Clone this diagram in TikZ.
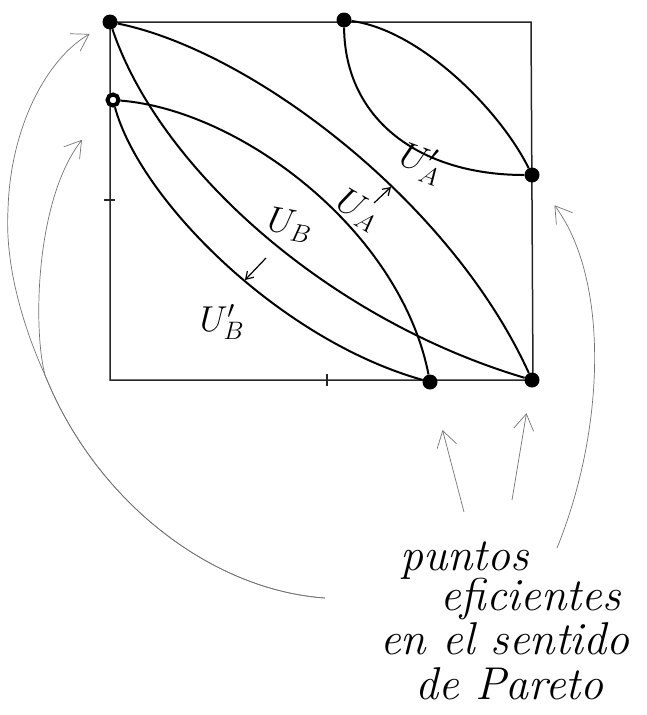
\RequirePackage{fix-cm}
\documentclass[tikz,border=0pt]{standalone}
\usepackage{tikz}
\usetikzlibrary{arrows.meta}

\begin{document}
\begin{tikzpicture}[x=1pt,y=-1pt,>={Straight Barb[length=16pt,width=20pt]},
  pto/.style={circle,fill=black,inner sep=0pt,minimum size=15pt},
  curva/.style={line width=2pt},
  caja/.style={line width=1.5pt,black!85},
  flecha/.style={->,black!55,line width=0.7pt},
  flechita/.style={-{Straight Barb[length=7pt,width=9pt]},line width=1.2pt},
  etiq/.style={font=\fontsize{36}{36}\selectfont,inner sep=0pt},
  letra/.style={font=\fontsize{46}{50}\selectfont\itshape,anchor=base west,inner sep=0pt}]
  \useasboundingbox (0,0) rectangle (646,715);
  % caja
  \draw[caja] (110,22) -- (531,22) -- (533,380) -- (110,380) -- cycle;
  \draw[caja] (104,200) -- (115,200);
  \draw[caja] (327,374) -- (327,386);
  % puntos eficientes
  \node[pto] (p1) at (110,22) {};
  \node[pto,fill=white,draw=black,line width=4pt,minimum size=11pt] (p2) at (113,100) {};
  \node[pto] (p3) at (344,20) {};
  \node[pto] (p4) at (532,175) {};
  \node[pto] (p5) at (430,382) {};
  \node[pto] (p6) at (532,380) {};
  % curvas de indiferencia
  \draw[curva] (p1) .. controls (250,50) and (450,200) .. (p6);
  \draw[curva] (p1) .. controls (160,170) and (330,320) .. (p6);
  \draw[curva] (p2) .. controls (240,110) and (400,230) .. (p5);
  \draw[curva] (p2) .. controls (140,200) and (280,340) .. (p5);
  \draw[curva] (p3) .. controls (420,30) and (500,110) .. (p4);
  \draw[curva] (p3) .. controls (345,120) and (420,175) .. (p4);
  % etiquetas
  \node[etiq,rotate=-30] (ua) at (358,210) {$U_A$};
  \node[etiq,rotate=-20] (uap) at (421,163) {$U_A'$};
  \node[etiq,rotate=-10] (ub) at (290,225) {$U_B$};
  \node[etiq] (ubp) at (222,322) {$U_B'$};
  \coordinate (fa0) at (374,203);
  \coordinate (fa1) at (391,187);
  \coordinate (fb0) at (266,258);
  \coordinate (fb1) at (245,280);
  \draw[flechita] (fa0) -- (fa1);
  \draw[flechita] (fb0) -- (fb1);
  % texto
  \node[letra] (t1) at (400,570) {puntos};
  \node[letra] (t2) at (440,610) {eficientes};
  \node[letra] (t3) at (380,654) {en el sentido};
  \node[letra] (t4) at (415,699) {de Pareto};
  \coordinate (cola) at (325,598);
  \coordinate (colb) at (464,512);
  \coordinate (colc) at (512,500);
  \coordinate (cold) at (557,548);
  \draw[flecha,shorten >=16pt] (cola) .. controls (210,590) and (95,500) .. (45,375)
        .. controls (20,320) and (5,260) .. (8,210)
        .. controls (10,130) and (45,60) .. (p1);
  \draw[flecha,shorten >=43pt] (cola) .. controls (210,590) and (95,500) .. (45,375)
        .. controls (33,330) and (35,200) .. (p2);
  \draw[flecha,shorten >=42pt] (colb) -- (p5);
  \draw[flecha,shorten >=26pt] (colc) -- (p6);
  \draw[flecha,shorten >=30pt] (cold) .. controls (605,430) and (610,280) .. (p4);
\end{tikzpicture}
\end{document}
